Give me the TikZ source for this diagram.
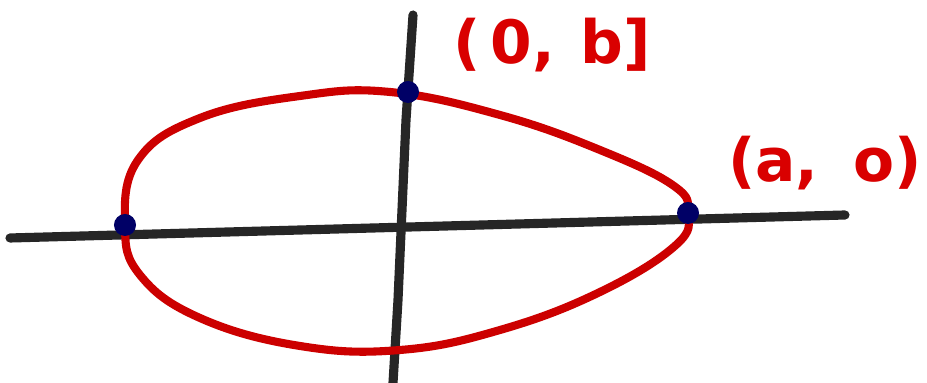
\documentclass[tikz,border=0pt]{standalone}
\usepackage{fontspec}
\setmainfont{DejaVu Sans}
\begin{document}
\begin{tikzpicture}[x=0.01cm,y=-0.01cm,
  axis/.style={line width=2.6pt,color=black!85,line cap=round},
  curve/.style={line width=2.3pt,color=red!80!black,line join=round},
  pt/.style={circle,fill=blue!40!black,inner sep=0pt,minimum size=0.22cm},
  lbl/.style={text=red!85!black,font=\fontsize{17}{20}\selectfont\bfseries,inner sep=0pt}]
\useasboundingbox (0,0) rectangle (927,383);
\fill[white] (0,0) rectangle (927,383);
\draw[axis] (10,238) -- (845,215);
\draw[axis] (413,15) -- (406,120) -- (398,300) -- (393,383);
\draw[curve] plot[smooth cycle,tension=0.7] coordinates {
  (125,225) (138,160) (200,118) (300,96) (390,92) (500,115) (600,150) (674,186)
  (688,213) (676,245) (600,292) (500,330) (400,350) (300,346) (200,318) (140,275)};
\node[pt] (L) at (125,225) {};
\node[pt] (T) at (408,92) {};
\node[pt] (R) at (688,213) {};
\node[lbl] (tb) at (552,45) {(\hspace{0.1cm}0,\hspace{0.25cm}b]};
\node[lbl] (ta) at (825,163) {(a,\hspace{0.35cm}o)};
\end{tikzpicture}
\end{document}
